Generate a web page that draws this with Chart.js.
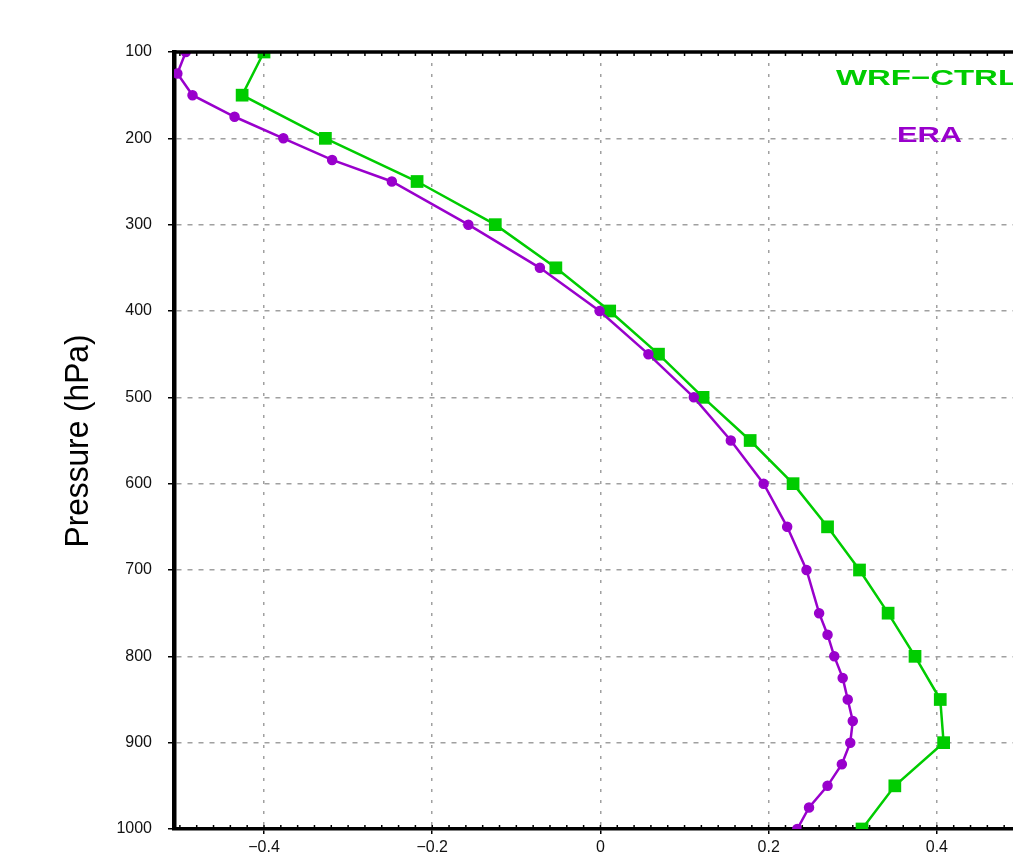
<!DOCTYPE html>
<html>
<head>
<meta charset="utf-8">
<script src="https://cdn.jsdelivr.net/npm/chart.js@4/dist/chart.umd.min.js"></script>
<style>
  html, body { margin: 0; padding: 0; background: #fff; overflow: hidden; }
  #wrap { width: 1013px; height: 863px; overflow: hidden; position: relative; }
  canvas { display: block; }
</style>
</head>
<body>
<div id="wrap"><canvas id="c" width="1030" height="863"></canvas></div>
<script>
// ---- data ----
const wrfLevels = [100,150,200,250,300,350,400,450,500,550,600,650,700,750,800,850,900,950,1000];
const wrfValues = [-0.400,-0.426,-0.327,-0.218,-0.125,-0.053,0.011,0.069,0.122,0.178,0.229,0.270,0.308,0.342,0.374,0.404,0.408,0.350,0.311];

const eraLevels = [100,125,150,175,200,225,250,300,350,400,450,500,550,600,650,700,750,775,800,825,850,875,900,925,950,975,1000];
const eraValues = [-0.493,-0.503,-0.485,-0.435,-0.377,-0.319,-0.248,-0.157,-0.072,-0.001,0.057,0.111,0.155,0.194,0.222,0.245,0.260,0.270,0.278,0.288,0.294,0.300,0.297,0.287,0.270,0.248,0.234];

const xTickValues = [-0.4,-0.2,0,0.2,0.4];
const yTickValues = [100,200,300,400,500,600,700,800,900,1000];
const xMin = -0.507, xMax = 0.5;
const yMin = 100, yMax = 1000;

const seriesNames = ['WRF\u2212CTRL', 'ERA'];
const yTitle = 'Pressure (hPa)';

const GREEN = '#00cc00';
const PURPLE = '#9900cc';

const toPts = (lv, vals) => lv.map((p, i) => ({ x: vals[i], y: p }));

const fmt = v => {
  if (Math.abs(v) < 1e-9) return '0';
  const s = Math.abs(v).toFixed(1);
  return (v < 0 ? '\u2212' : '') + s;
};

// ---- plugins ----
const framePlugin = {
  id: 'frame',
  afterDatasetsDraw(chart) {
    const { ctx, chartArea: a, scales } = chart;
    const xs = scales.x;
    ctx.save();
    ctx.strokeStyle = '#000';
    ctx.lineWidth = 3.5;
    ctx.beginPath();
    ctx.moveTo(a.left - 2, a.top);
    ctx.lineTo(a.right + 2, a.top);
    ctx.stroke();
    ctx.lineWidth = 1.5;
    ctx.beginPath();
    for (let v = -0.5; v <= 0.5001; v += 0.02) {
      const px = xs.getPixelForValue(v);
      if (px < a.left + 2) continue;
      ctx.moveTo(px, a.top);
      ctx.lineTo(px, a.top + 4);
      ctx.moveTo(px, a.bottom);
      ctx.lineTo(px, a.bottom - 4);
    }
    ctx.stroke();
    ctx.restore();
  },
  afterDraw(chart) {
    const { ctx } = chart;
    ctx.save();
    const drawFit = (txt, x, yBase, w, size, color) => {
      ctx.font = 'bold ' + size + 'px "Liberation Sans", Arial, sans-serif';
      const mw = ctx.measureText(txt).width;
      ctx.save();
      ctx.translate(x, yBase);
      ctx.scale(w / mw, 1);
      ctx.fillStyle = color;
      ctx.textAlign = 'left';
      ctx.textBaseline = 'alphabetic';
      ctx.fillText(txt, 0, 0);
      ctx.restore();
    };
    drawFit(seriesNames[0], 836, 85, 182, 22, GREEN);
    drawFit(seriesNames[1], 897, 142, 65, 22, PURPLE);
    ctx.font = '33px "Liberation Sans", Arial, sans-serif';
    const tw = ctx.measureText(yTitle).width;
    ctx.translate(88, 441);
    ctx.rotate(-Math.PI / 2);
    ctx.scale(213 / tw, 1);
    ctx.fillStyle = '#000';
    ctx.textAlign = 'center';
    ctx.textBaseline = 'alphabetic';
    ctx.fillText(yTitle, 0, 0);
    ctx.restore();
  }
};

new Chart(document.getElementById('c'), {
  type: 'scatter',
  data: {
    datasets: [
      {
        label: seriesNames[1],
        data: toPts(eraLevels, eraValues),
        showLine: true,
        borderColor: PURPLE,
        backgroundColor: PURPLE,
        borderWidth: 2.5,
        pointStyle: 'circle',
        pointRadius: 4.5,
        pointBorderWidth: 1.5,
        pointBorderColor: PURPLE,
        pointBackgroundColor: PURPLE,
        tension: 0,
        order: 0
      },
      {
        label: seriesNames[0],
        data: toPts(wrfLevels, wrfValues),
        showLine: true,
        borderColor: GREEN,
        backgroundColor: GREEN,
        borderWidth: 2.5,
        pointStyle: 'rect',
        pointRadius: 9,
        pointBorderWidth: 0,
        pointBackgroundColor: GREEN,
        tension: 0,
        order: 1
      }
    ]
  },
  options: {
    responsive: false,
    animation: false,
    devicePixelRatio: 1,
    layout: { padding: { top: 52, right: 9, bottom: 0, left: 0 } },
    plugins: {
      legend: { display: false },
      tooltip: { enabled: false },
      title: { display: false }
    },
    scales: {
      x: {
        type: 'linear',
        min: xMin,
        max: xMax,
        afterBuildTicks: s => { s.ticks = xTickValues.map(v => ({ value: v })); },
        afterFit: s => { s.height = 34; },
        ticks: {
          callback: v => fmt(v),
          color: '#111',
          font: { family: '"Liberation Sans", Arial, sans-serif', size: 16 },
          padding: 4,
          maxRotation: 0
        },
        grid: {
          color: '#a0a0a0',
          lineWidth: 1.5,
          tickColor: '#000',
          tickLength: 5,
          tickWidth: 1.5,
          tickBorderDash: [],
          drawTicks: true
        },
        border: { display: true, color: '#000', width: 3.5, dash: [3, 8] }
      },
      y: {
        type: 'linear',
        reverse: true,
        min: yMin,
        max: yMax,
        afterBuildTicks: s => { s.ticks = yTickValues.map(v => ({ value: v })); },
        afterFit: s => { s.width = 174; },
        ticks: {
          callback: v => String(v),
          color: '#111',
          font: { family: '"Liberation Sans", Arial, sans-serif', size: 16 },
          padding: 16
        },
        grid: {
          color: '#a0a0a0',
          lineWidth: 1.5,
          tickColor: '#000',
          tickLength: 6,
          tickWidth: 1.5,
          tickBorderDash: [],
          drawTicks: true
        },
        border: { display: true, color: '#000', width: 4.5, dash: [5, 6] }
      }
    }
  },
  plugins: [framePlugin]
});
</script>
</body>
</html>
